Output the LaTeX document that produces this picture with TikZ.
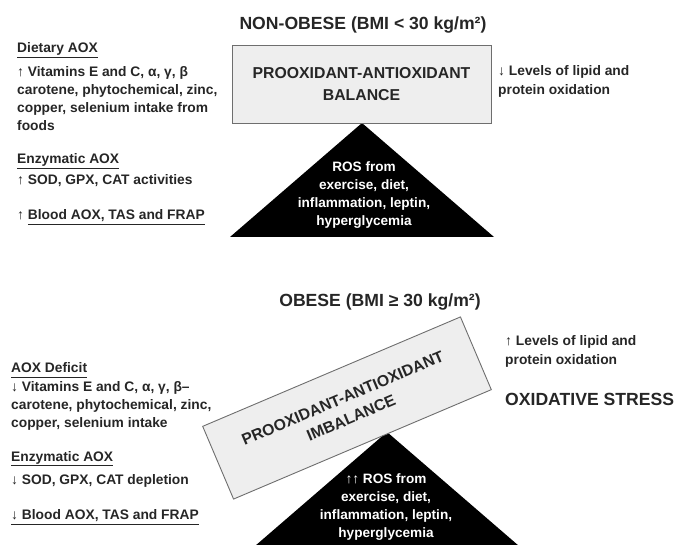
\documentclass[tikz,border=0pt]{standalone}
\usepackage{fontspec}
\setmainfont{Liberation Sans}
\usepackage{tikz}
\usetikzlibrary{positioning}

\definecolor{ink}{HTML}{262626}
\definecolor{boxgray}{HTML}{EEEEEE}
\definecolor{edgegray}{HTML}{6E6E6E}

% underline set a bit lower than \underline
\newcommand{\aoxul}[1]{\setbox0\hbox{#1}\rlap{\rule[-5pt]{\wd0}{1pt}}\box0}

\tikzset{
  smalltxt/.style={anchor=base west, inner sep=0pt, text=ink, font=\fontsize{13.8}{16}\selectfont\bfseries},
  headtxt/.style={inner sep=0pt, text=ink, font=\fontsize{17.6}{20}\selectfont\bfseries},
  balbox/.style={draw=edgegray, fill=boxgray, line width=0.9pt, align=center, inner sep=0pt,
    text=ink, font=\fontsize{15.8}{21.5}\selectfont\bfseries},
  rostxt/.style={align=center, text=white, inner sep=0pt, font=\fontsize{13.6}{18.2}\selectfont\bfseries},
}

\begin{document}
\begin{tikzpicture}[x=1pt, y=-1pt]
    \useasboundingbox (0,0) rectangle (678,545);

    % ---------- NON-OBESE ----------
    \node[headtxt, anchor=base] (titletop) at (363,29.5) {NON-OBESE (BMI < 30 kg/m²)};

    % Triangle ROS
    \coordinate (apextop) at (362,123);
    \fill[black] (apextop) -- ++(-132,114) -- ++(264,0) -- cycle;
    \node[rostxt] (rostop) at (364,195) {ROS from\\exercise, diet,\\inflammation, leptin,\\hyperglycemia};

    % Balance
    \node[balbox, minimum width=259pt, minimum height=78pt] (baltop) at (361.5,84)
        {PROOXIDANT-ANTIOXIDANT\\BALANCE};

    % Texte gauche
    \node[smalltxt] (diethead) at (17,53) {\aoxul{Dietary AOX}};
    \foreach \ln [count=\i] in {{↑ Vitamins E and C, α, γ, β}, {carotene, phytochemical, zinc,},
        {copper, selenium intake from}, {foods}} {
        \node[smalltxt] (diet\i) at (17,58+18.2*\i) {\ln};
    }
    \node[smalltxt] (enzhead) at (17,164) {\aoxul{Enzymatic AOX}};
    \node[smalltxt] (enztop) at (17,185) {↑ SOD, GPX, CAT activities};
    \node[smalltxt] (bloodtop) at (17,220) {↑ \aoxul{Blood AOX, TAS and FRAP}};

    % Texte droite
    \node[smalltxt] (lipidtop) at (498,76) {↓ Levels of lipid and};
    \node[smalltxt] (proteintop) at (498,95) {protein oxidation};

    % ---------- OBESE ----------
    \node[headtxt, anchor=base] (titlebot) at (380,306.5) {OBESE (BMI ≥ 30 kg/m²)};

    % Triangle ROS
    \coordinate (apexbot) at (387,432);
    \fill[black] (apexbot) -- ++(-132,114) -- ++(264,0) -- cycle;
    \node[rostxt] (rosbot) at (386,507) {↑↑ ROS from\\exercise, diet,\\inflammation, leptin,\\hyperglycemia};

    % Imbalance (penche)
    \node[balbox, minimum width=280pt, minimum height=79pt, rotate=23] (balbot) at (347,408)
        {PROOXIDANT-ANTIOXIDANT\\IMBALANCE};

    % Texte gauche
    \node[smalltxt] (defhead) at (11,373) {\aoxul{AOX Deficit}};
    \foreach \ln [count=\i] in {{↓ Vitamins E and C, α, γ, β–}, {carotene, phytochemical, zinc,},
        {copper, selenium intake}} {
        \node[smalltxt] (def\i) at (11,373+18.2*\i) {\ln};
    }
    \node[smalltxt] (enzheadbot) at (11,461.5) {\aoxul{Enzymatic AOX}};
    \node[smalltxt] (enzbot) at (11,484) {↓ SOD, GPX, CAT depletion};
    \node[smalltxt] (bloodbot) at (11,519.5) {\aoxul{↓ Blood AOX, TAS and FRAP}};

    % Texte droite
    \node[smalltxt] (lipidbot) at (505,346) {↑ Levels of lipid and};
    \node[smalltxt] (proteinbot) at (505,364.5) {protein oxidation};
    \node[headtxt, anchor=base west] (oxstress) at (505,406) {OXIDATIVE STRESS};

\end{tikzpicture}
\end{document}
